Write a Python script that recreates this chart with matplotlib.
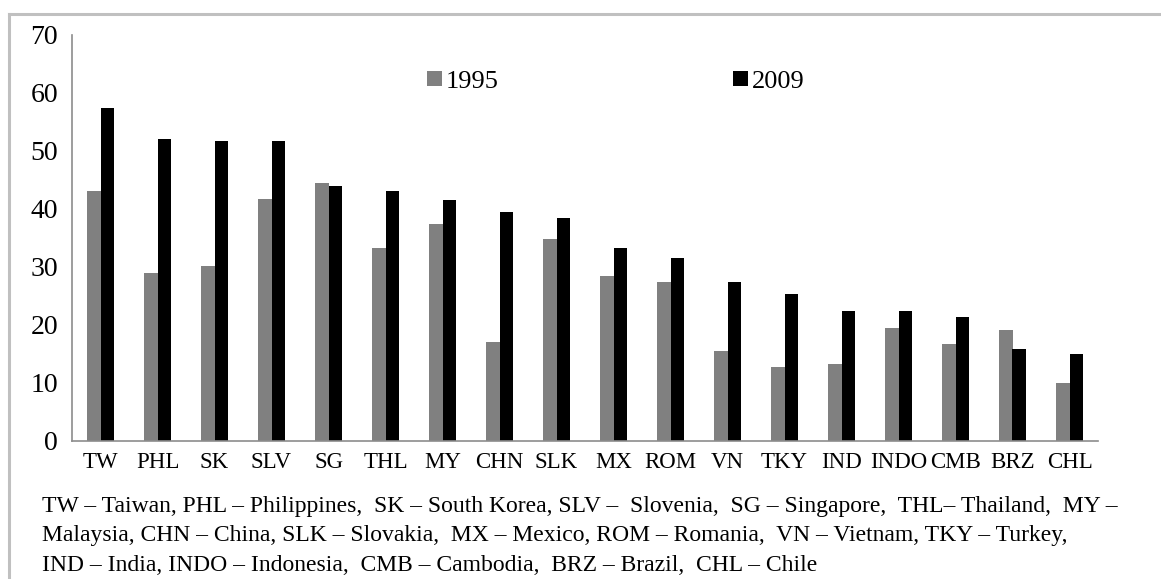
import matplotlib.pyplot as plt
from matplotlib.lines import Line2D
from matplotlib.patches import Patch
import numpy as np

# --- Data ---
countries = ["TW", "PHL", "SK", "SLV", "SG", "THL", "MY", "CHN", "SLK",
             "MX", "ROM", "VN", "TKY", "IND", "INDO", "CMB", "BRZ", "CHL"]
values_1995 = [43.1, 28.9, 30.2, 41.8, 44.5, 33.2, 37.5, 17.0, 34.8,
               28.5, 27.5, 15.6, 12.7, 13.2, 19.4, 16.8, 19.2, 10.0]
values_2009 = [57.4, 52.0, 51.8, 51.8, 43.9, 43.1, 41.5, 39.4, 38.5,
               33.2, 31.5, 27.5, 25.3, 22.4, 22.4, 21.3, 15.9, 15.0]
yticks = [0, 10, 20, 30, 40, 50, 60, 70]

footnote = ("TW \u2013 Taiwan, PHL \u2013 Philippines,  SK \u2013 South Korea, SLV \u2013  Slovenia,  "
            "SG \u2013 Singapore,  THL\u2013 Thailand,  MY \u2013\n"
            "Malaysia, CHN \u2013 China, SLK \u2013 Slovakia,  MX \u2013 Mexico, ROM \u2013 Romania,  "
            "VN \u2013 Vietnam, TKY \u2013 Turkey,\n"
            "IND \u2013 India, INDO \u2013 Indonesia,  CMB \u2013 Cambodia,  BRZ \u2013 Brazil,  CHL \u2013 Chile")

GRAY = "#808080"
SPINE = "#8c8c8c"

plt.rcParams['font.family'] = ['Liberation Serif', 'DejaVu Serif']

W, H = 1161, 579
fig = plt.figure(figsize=(W / 100, H / 100), dpi=100)

# outer frame (top and left only visible)
fig.add_artist(Line2D([9 / W, 1], [1 - 14 / H, 1 - 14 / H], color="#c0c0c0", lw=2.2,
                      transform=fig.transFigure))
fig.add_artist(Line2D([9 / W, 9 / W], [0, 1 - 14 / H], color="#c0c0c0", lw=2.2,
                      transform=fig.transFigure))

ax = fig.add_axes([72 / W, 1 - 441 / H, (1098 - 72) / W, (441 - 35) / H])

x = np.arange(len(countries))
bw = 0.23
ax.bar(x - bw / 2, values_1995, width=bw, color=GRAY, label="1995")
ax.bar(x + bw / 2, values_2009, width=bw, color="black", label="2009")

ax.set_xlim(-0.5, len(countries) - 0.5)
ax.set_ylim(0, 70)
ax.set_yticks(yticks)
ax.set_yticklabels([str(t) for t in yticks], fontsize=20)
ax.set_xticks(x)
ax.set_xticklabels(countries, fontsize=16.5)
ax.tick_params(axis="both", length=0)
ax.tick_params(axis="y", pad=10)
ax.tick_params(axis="x", pad=8)

for s in ["top", "right"]:
    ax.spines[s].set_visible(False)
ax.spines["left"].set_color(SPINE)
ax.spines["bottom"].set_color(SPINE)
ax.spines["left"].set_linewidth(1.2)
ax.spines["bottom"].set_linewidth(1.2)

handles = [Patch(facecolor=GRAY), Patch(facecolor="black")]
ax.legend(handles, ["1995", "2009"], loc="center", bbox_to_anchor=(0.53, 0.885),
          ncol=2, frameon=False, fontsize=19, handlelength=0.55, handleheight=0.55,
          handletextpad=0.15, columnspacing=8.9)

fig.text(42 / W, 1 - 536 / H, footnote, fontsize=17, va="center", ha="left",
         linespacing=1.55)

fig.savefig("out.png", dpi=100, facecolor="white")
